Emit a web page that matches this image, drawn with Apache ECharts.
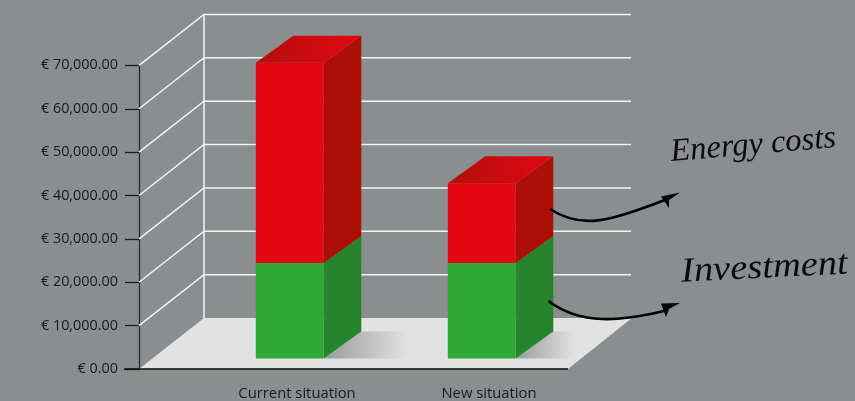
<!DOCTYPE html>
<html><head><meta charset="utf-8">
<style>html,body{margin:0;padding:0;background:#8a8e8f}#c{width:855px;height:401px}</style>
<script src="https://cdn.jsdelivr.net/npm/echarts@6/dist/echarts.min.js"></script>
</head><body><div id="c"></div>
<script>
const categories = ['Current situation', 'New situation'];
const investment = [22000, 22000];
const energyCosts = [46200, 18400];
const yTicks = [0, 10000, 20000, 30000, 40000, 50000, 60000, 70000];
const seriesLabels = ['Energy costs', 'Investment'];

// drawing geometry (pixels relative to the axes)
const AXIS_SHIFT = 62, WALL_DX = 65, WALL_DY = -51, FLOOR_W = 429;
const BAR_W = 68, BAR_LEFT = -41.2, BAR_BASE_DY = -10.5, DEPTH_X = 37.5, DEPTH_Y = -27;

const chart = echarts.init(document.getElementById('c'), null, {renderer: 'canvas'});
const poly = (pts, fill, extra) => Object.assign({type: 'polygon', shape: {points: pts}, style: {fill: fill}, silent: true}, extra || {});
const line = (pts, color, w) => ({type: 'polyline', shape: {points: pts}, style: {fill: null, stroke: color, lineWidth: w}, silent: true});
const grad = (a, b) => new echarts.graphic.LinearGradient(0, 0, 1, 0, [{offset: 0, color: a}, {offset: 1, color: b}]);

function barGeom(api, i, lo, hi) {
  const c0 = api.coord([i, lo]), c1 = api.coord([i, hi]);
  const xl = c0[0] + BAR_LEFT, xr = xl + BAR_W;
  return {xl, xr, y0: c0[1] + BAR_BASE_DY, y1: c1[1] + BAR_BASE_DY};
}
function renderBox(front, side, withTop) {
  return function (params, api) {
    const g = barGeom(api, api.value(0), api.value(1), api.value(2));
    const d = (p) => [p[0] + DEPTH_X, p[1] + DEPTH_Y];
    const kids = [
      poly([[g.xr, g.y0], [g.xr, g.y1], d([g.xr, g.y1]), d([g.xr, g.y0])], side),
      poly([[g.xl, g.y0], [g.xr, g.y0], [g.xr, g.y1], [g.xl, g.y1]], front)
    ];
    if (withTop) kids.push(poly([[g.xl, g.y1], [g.xr, g.y1], d([g.xr, g.y1]), d([g.xl, g.y1])], grad('#b30f0b', '#e30613')));
    return {type: 'group', children: kids};
  };
}

const option = {
  animation: false,
  backgroundColor: '#8a8e8f',
  grid: {left: 201, width: 384, top: 65.4, height: 304},
  xAxis: {
    type: 'category', data: categories,
    axisLine: {show: false}, axisTick: {show: false},
    axisLabel: {color: '#1a1a1a', fontFamily: 'Open Sans', fontSize: 14.8, margin: 17}
  },
  yAxis: {
    type: 'value', min: 0, max: 70000, interval: 10000, offset: AXIS_SHIFT,
    splitLine: {show: false},
    axisLine: {show: true, lineStyle: {color: '#2b2b2b', width: 1.3}},
    axisTick: {show: true, length: 14, lineStyle: {color: '#1c1c1c', width: 1.3}},
    axisLabel: {
      color: '#1a1a1a', fontFamily: 'Open Sans', fontSize: 14.4, margin: 21,
      formatter: v => '€ ' + v.toLocaleString('en-US', {minimumFractionDigits: 2, maximumFractionDigits: 2})
    }
  },
  series: [
    { // floor
      type: 'custom', z: 1, clip: false, data: [[0, 0]], silent: true,
      renderItem: function (params, api) {
        const y = api.coord([0, 0])[1], x = params.coordSys.x - AXIS_SHIFT;
        return {type: 'group', children: [
          poly([[x, y], [x + FLOOR_W, y], [x + FLOOR_W + WALL_DX - 1, y + WALL_DY], [x + WALL_DX, y + WALL_DY]], '#e2e2e2'),
          line([[x - 15, y], [x + FLOOR_W, y]], '#0c0c0c', 1.6)
        ]};
      }
    },
    { // wall grid lines
      type: 'custom', z: 2, clip: false, silent: true, data: yTicks.slice(1).map(v => [0, v]),
      renderItem: function (params, api) {
        const y = api.coord([0, api.value(1)])[1], x = params.coordSys.x - AXIS_SHIFT;
        const kids = [line([[x, y], [x + WALL_DX, y + WALL_DY], [x + FLOOR_W + WALL_DX - 2, y + WALL_DY]], '#f4f4f4', 1.5)];
        if (params.dataIndex === yTicks.length - 2) {
          const y0 = api.coord([0, 0])[1];
          kids.push(line([[x + WALL_DX, y + WALL_DY], [x + WALL_DX, y0 + WALL_DY]], '#f4f4f4', 1.5));
        }
        return {type: 'group', children: kids};
      }
    },
    { // cast shadows
      type: 'custom', z: 3, clip: false, silent: true, data: categories.map((c, i) => [i, 0]),
      renderItem: function (params, api) {
        const g = barGeom(api, api.value(0), 0, 0);
        const yb = g.y0, yt = g.y0 + DEPTH_Y;
        const xe = Math.min(g.xr + 84, params.coordSys.x - AXIS_SHIFT + FLOOR_W + 7);
        return poly([[g.xr, yb], [g.xr + DEPTH_X, yt], [xe, yt], [xe, yb]], grad('#9a9a9a', '#e2e2e2'));
      }
    },
    {
      name: seriesLabels[1], type: 'custom', z: 4, clip: false, silent: true,
      data: categories.map((c, i) => [i, 0, investment[i]]),
      encode: {x: 0, y: [1, 2]},
      renderItem: renderBox('#2fa836', '#26852c', false)
    },
    {
      name: seriesLabels[0], type: 'custom', z: 5, clip: false, silent: true,
      data: categories.map((c, i) => [i, investment[i], investment[i] + energyCosts[i]]),
      encode: {x: 0, y: [1, 2]},
      renderItem: renderBox('#e30613', '#ad0f08', true)
    }
  ],
  graphic: [
    {type: 'text', z: 50, silent: true, x: 672, y: 169, rotation: 0.085,
      style: {text: seriesLabels[0], font: 'italic 32.5px "Liberation Serif"', fill: '#0a0a0a', verticalAlign: 'bottom'}},
    {type: 'text', z: 50, silent: true, x: 682, y: 290, rotation: 0.05, scaleX: 1.1,
      style: {text: seriesLabels[1], font: 'italic 35px "Liberation Serif"', fill: '#0a0a0a', verticalAlign: 'bottom'}},
    {type: 'bezierCurve', z: 50, silent: true,
      shape: {x1: 550, y1: 209, cpx1: 585, cpy1: 232, cpx2: 615, cpy2: 218, x2: 668, y2: 199},
      style: {fill: null, stroke: '#000', lineWidth: 2.6}},
    {type: 'polygon', z: 50, silent: true,
      shape: {points: [[680, 192.5], [661, 196.5], [669, 208], [669, 200]]}, style: {fill: '#000'}},
    {type: 'bezierCurve', z: 50, silent: true,
      shape: {x1: 548.5, y1: 301, cpx1: 580, cpy1: 325, cpx2: 620, cpy2: 322, x2: 668, y2: 310},
      style: {fill: null, stroke: '#000', lineWidth: 2.6}},
    {type: 'polygon', z: 50, silent: true,
      shape: {points: [[680, 303], [661, 303.5], [666, 317], [669, 309]]}, style: {fill: '#000'}}
  ]
};
chart.setOption(option);
</script></body></html>
